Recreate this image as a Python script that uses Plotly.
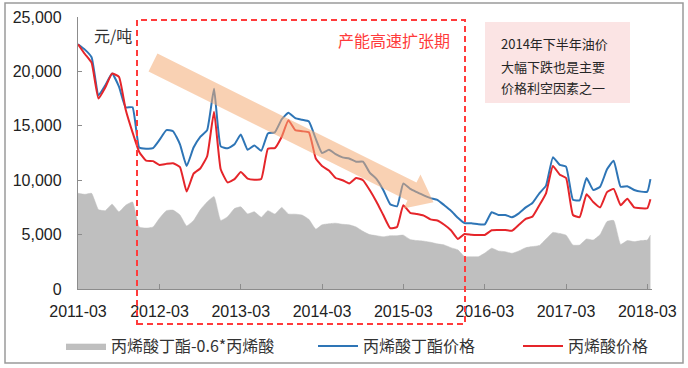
import numpy as np
import pandas as pd
import plotly.graph_objects as go

# ---------------- data ----------------
dates = list(pd.date_range("2011-03-01", "2018-03-01", freq="MS").strftime("%Y-%m-%d")) + ["2018-03-15"]

ba_price = [22500, 22000, 21300, 17800, 18700, 19800, 18600, 16700, 16700, 13000,
            12900, 12950, 13700, 14600, 14500, 13300, 11300, 13000, 14000, 14600,
            18400, 13100, 12930, 13300, 14200, 12800, 13200, 12700, 14300, 14400,
            15600, 16200, 15700, 15550, 15400, 13800, 12500, 12800, 12400, 12100,
            12000, 11700, 11700, 10700, 10100, 9100, 7800, 7600, 9700, 9200,
            8900, 8600, 8350, 8200, 7700, 7200, 6550, 6050, 6040, 5950,
            5950, 7050, 6800, 6800, 6600, 6950, 7500, 7900, 8800, 9500,
            12100, 11400, 11250, 8200, 8150, 10200, 9100, 9400, 11000, 11800,
            9400, 9450, 9100, 8950, 8950, 10100]

aa_price = [22500, 21600, 20800, 17500, 18500, 19800, 19500, 16500, 14400, 12600,
            11800, 11750, 11400, 11500, 11550, 11200, 8950, 10600, 11100, 12200,
            16300, 11000, 9800, 10100, 10750, 10150, 10050, 10100, 12900, 12950,
            14000, 15500, 14600, 14500, 14400, 12000, 11300, 10900, 10200, 10000,
            9700, 10200, 10000, 9100, 8000, 6800, 5600, 5700, 7700, 7000,
            6900, 6750, 6400, 6300, 5900, 5400, 4600, 5050, 4980, 4960,
            4970, 5400, 5420, 5420, 5350, 5900, 6450, 6650, 7700, 8800,
            11300, 10500, 10200, 6800, 6600, 8700, 8000, 7500, 8900, 9200,
            7700, 8300, 7500, 7420, 7420, 8250]

spread = [8800, 8700, 8790, 7300, 7200, 7800, 7100, 7700, 8000, 5700,
          5600, 5700, 6500, 7200, 7250, 6800, 5800, 6300, 7300, 8000,
          8500, 6300, 6650, 7400, 7550, 6900, 7100, 6600, 7200, 6900,
          7500, 6900, 6880, 6800, 6400, 5500, 5900, 6000, 6050, 5950,
          5900, 5700, 5300, 5000, 4900, 4800, 4900, 4900, 4950, 4550,
          4450, 4400, 4300, 4150, 4050, 3800, 3600, 2970, 2970, 2970,
          3300, 3750, 3500, 3430, 3280, 3500, 3800, 3900, 4000, 4600,
          5200, 5100, 4950, 4040, 4040, 4600, 4500, 5000, 6200, 6300,
          4100, 4450, 4350, 4450, 4500, 4960]

tick_dates = ["2011-03-01", "2012-03-01", "2013-03-01", "2014-03-01",
              "2015-03-01", "2016-03-01", "2017-03-01", "2018-03-01"]
tick_labels = ["2011-03", "2012-03", "2013-03", "2014-03",
               "2015-03", "2016-03", "2017-03", "2018-03"]
y_ticks = [0, 5000, 10000, 15000, 20000, 25000]

name_spread = "丙烯酸丁酯-0.6*丙烯酸"
name_ba = "丙烯酸丁酯价格"
name_aa = "丙烯酸价格"
unit_label = "元/吨"
period_label = "产能高速扩张期"
note_lines = ["2014年下半年油价", "大幅下跌也是主要", "价格利空因素之一"]

# ---------------- layout geometry (pixels) ----------------
W, H = 688, 368
PL, PR, PT, PB = 78, 652, 17, 289


def px(x):
    return (x - PL) / (PR - PL)


def py(y):
    return (PB - y) / (PB - PT)


FONT = "Liberation Sans, Arial, Noto Sans CJK SC, sans-serif"
CJK = "Noto Sans CJK SC, Liberation Sans, sans-serif"

fig = go.Figure()
fig.add_trace(go.Scatter(x=dates, y=spread, name=name_spread, mode="lines",
                         fill="tozeroy", fillcolor="#BFBFBF", legend="legend",
                         line=dict(color="#BFBFBF", width=0.5, shape="spline", smoothing=0.4)))
fig.add_trace(go.Scatter(x=dates, y=ba_price, name=name_ba, mode="lines",
                         line=dict(color="#2E75B6", width=2, shape="spline", smoothing=0.4),
                         legend="legend2"))
fig.add_trace(go.Scatter(x=dates, y=aa_price, name=name_aa, mode="lines",
                         line=dict(color="#E5252A", width=2, shape="spline", smoothing=0.4),
                         legend="legend3"))

shapes = []
# outer border
shapes.append(dict(type="rect", xref="paper", yref="paper",
                   x0=px(5), x1=px(683), y0=py(363), y1=py(3),
                   line=dict(color="#9A9A9A", width=1.5), fillcolor="rgba(0,0,0,0)", layer="below"))
# pink note box
shapes.append(dict(type="rect", xref="paper", yref="paper",
                   x0=px(485), x1=px(630), y0=py(103), y1=py(22),
                   line=dict(width=0), fillcolor="#FBE4E4", layer="below"))
# red dashed box
shapes.append(dict(type="rect", xref="paper", yref="paper",
                   x0=px(137), x1=px(465), y0=py(324), y1=py(20),
                   line=dict(color="#FF3B3B", width=2, dash="6px,4px"),
                   fillcolor="rgba(0,0,0,0)", layer="above"))

# orange trend arrow (decoration)
p0 = np.array([153.0, 62.5])
d = np.array([0.895, 0.446]); d = d / np.linalg.norm(d)
n = np.array([-d[1], d[0]])
base = np.array([412.0, 191.5])
tip = base + d * 24
hw, hh = 10.0, 19.0
pts = [p0 - n * hw, base - n * hw, base - n * hh, tip, base + n * hh, base + n * hw, p0 + n * hw]
path = "M " + " L ".join(f"{px(p[0]):.5f},{py(p[1]):.5f}" for p in pts) + " Z"
shapes.append(dict(type="path", xref="paper", yref="paper", path=path,
                   fillcolor="rgba(244,172,116,0.55)", line=dict(width=0), layer="above"))

annotations = [
    dict(xref="paper", yref="paper", x=px(113), y=py(35), text=unit_label, showarrow=False,
         font=dict(family=CJK, size=16, color="#333333"), xanchor="center", yanchor="middle"),
    dict(xref="paper", yref="paper", x=px(452), y=py(40), text=period_label, showarrow=False,
         font=dict(family=CJK, size=16, color="#FF3B3B"), xanchor="right", yanchor="middle"),
]
for i, t in enumerate(note_lines):
    annotations.append(dict(xref="paper", yref="paper", x=px(499), y=py(44 + 22 * i), text=t,
                            showarrow=False, xanchor="left", yanchor="middle",
                            font=dict(family=CJK, size=13, color="#262626")))

leg_common = dict(orientation="h", yanchor="middle", xanchor="left", y=py(346),
                  bgcolor="rgba(0,0,0,0)", font=dict(family=CJK, size=16, color="#333333"),
                  itemwidth=40)

fig.update_layout(
    width=W, height=H,
    showlegend=True,
    margin=dict(l=PL, r=W - PR, t=PT, b=H - PB, autoexpand=False),
    paper_bgcolor="white", plot_bgcolor="white",
    font=dict(family=FONT, size=16, color="#222222"),
    xaxis=dict(type="date", range=["2011-03-01", "2018-03-22"],
               tickmode="array", tickvals=tick_dates, ticktext=tick_labels,
               showgrid=False, zeroline=False, showline=True, linecolor="#8C8C8C", linewidth=1.3,
               ticks="inside", ticklen=5, tickcolor="#8C8C8C",
               tickfont=dict(family=FONT, size=16, color="#222222"), ticklabelstandoff=8),
    yaxis=dict(range=[0, 25000], tickmode="array", tickvals=y_ticks, tickformat=",",
               showgrid=False, zeroline=False, showline=True, linecolor="#8C8C8C", linewidth=1.3,
               ticks="inside", ticklen=4, tickcolor="#8C8C8C",
               tickfont=dict(family=FONT, size=16, color="#222222"), ticklabelstandoff=12),
    legend=dict(x=px(61), **leg_common),
    legend2=dict(x=px(313), **leg_common),
    legend3=dict(x=px(518), **leg_common),
    shapes=shapes,
    annotations=annotations,
)

fig.write_html("out.html", config={"displayModeBar": False},
               post_script="document.body.style.margin='0';document.body.style.overflow='hidden';")
